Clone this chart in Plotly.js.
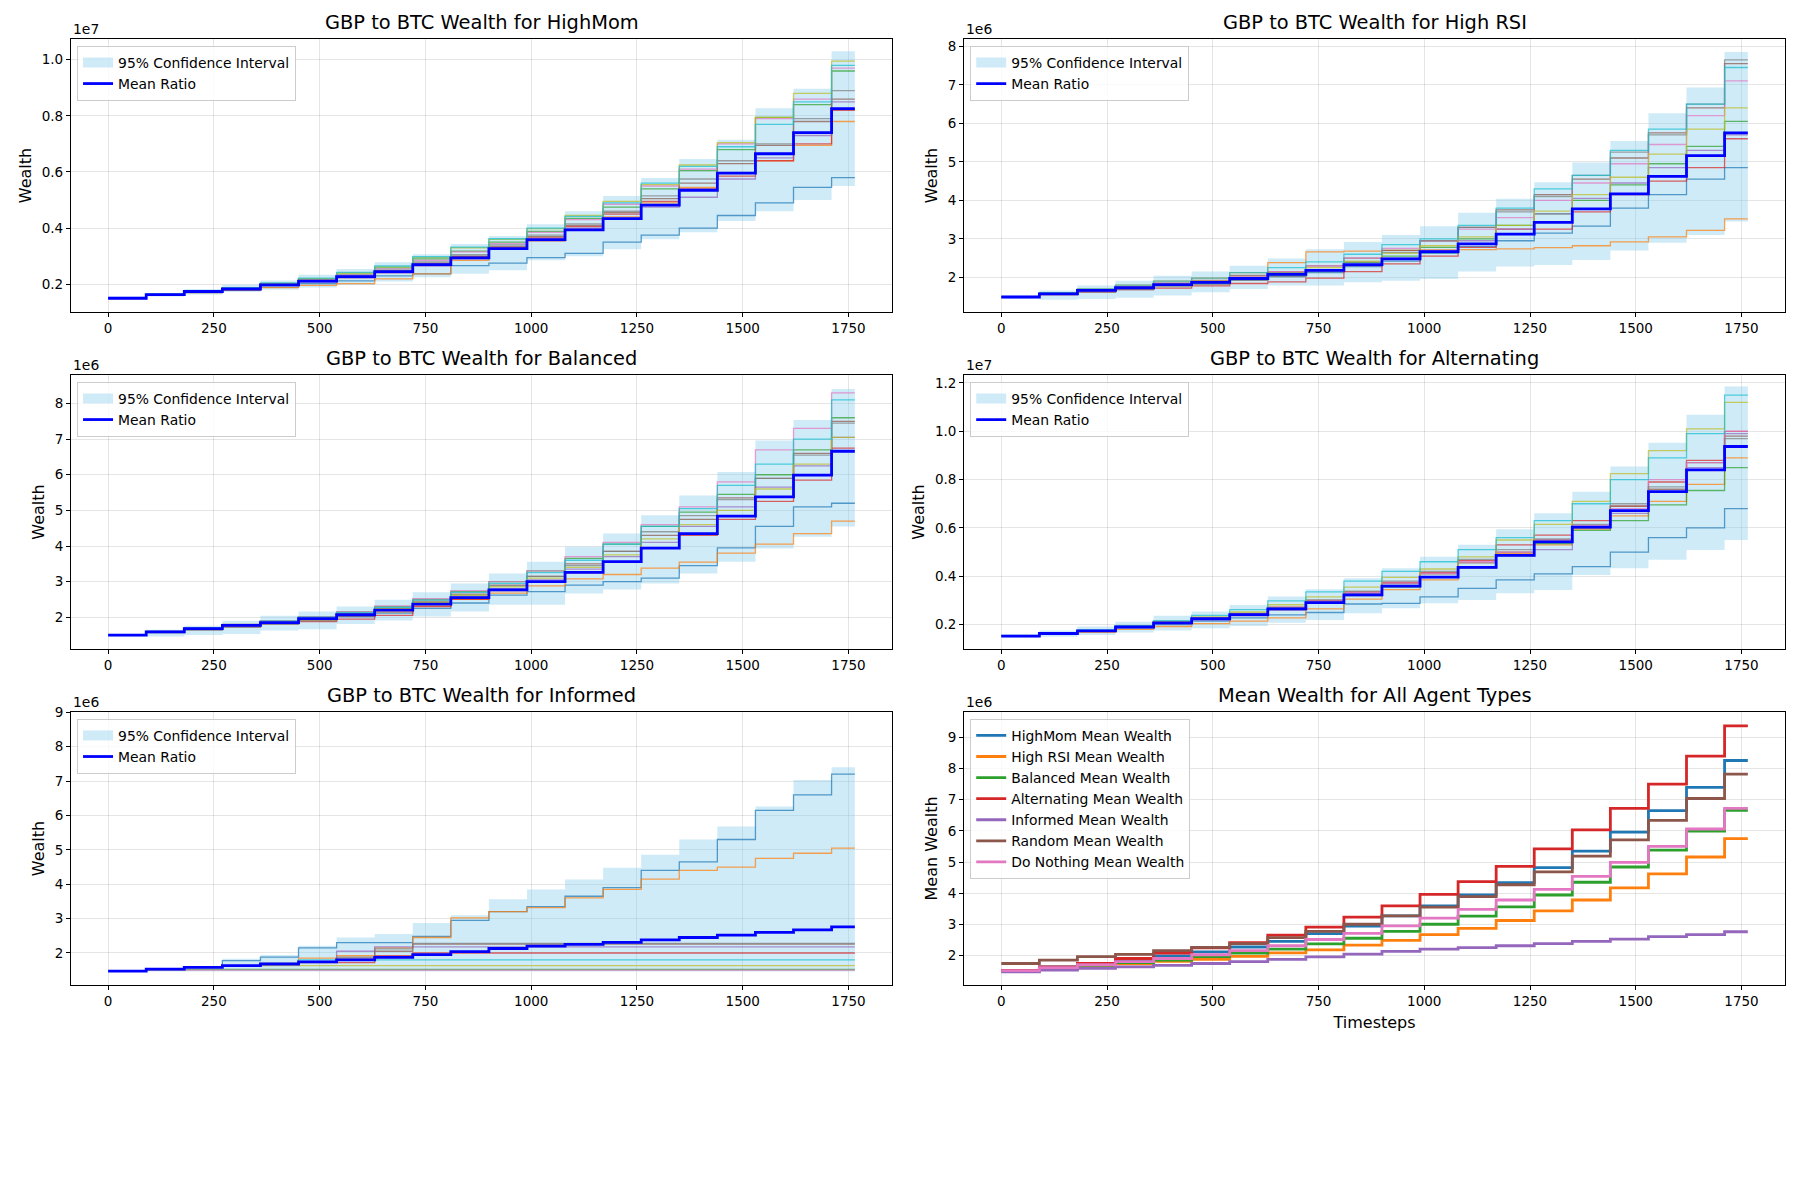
<!DOCTYPE html>
<html>
<head>
<meta charset="utf-8">
<script src="https://cdn.plot.ly/plotly-3.0.1.min.js"></script>
<style>
body { margin: 0; background: #fff; }
#graph { width: 1800px; height: 1200px; }
</style>
</head>
<body>
<div id="graph"></div>
<script>
// timesteps where each deposit period starts (every series steps up here)
const timesteps = [0,90,180,270,360,450,540,630,720,810,900,990,1080,1170,1260,1350,1440,1530,1620,1710];
const lastStep = 1765;
const xTicks = [0,250,500,750,1000,1250,1500,1750];
const runColors = ['#1f77b4','#ff7f0e','#2ca02c','#d62728','#9467bd','#8c564b','#e377c2','#7f7f7f','#bcbd22','#17becf'];

// all wealth values in millions, one value per deposit period

// HighMom
const highMomMean  = [1.50,1.63,1.74,1.83,1.98,2.11,2.27,2.45,2.70,2.94,3.27,3.59,3.94,4.34,4.82,5.35,5.96,6.65,7.40,8.26];
const highMomUpper = [1.56,1.68,1.83,1.98,2.13,2.34,2.54,2.78,3.07,3.43,3.72,4.14,4.60,5.14,5.79,6.46,7.15,8.27,8.97,10.3];
const highMomLower = [1.47,1.56,1.63,1.72,1.80,1.88,1.97,2.10,2.25,2.37,2.50,2.85,3.00,3.25,3.60,3.85,4.25,4.60,5.00,5.50];
const highMomRuns = [
  [1.50,1.61,1.70,1.78,1.90,2.02,2.12,2.30,2.37,2.66,2.75,2.95,3.10,3.50,3.75,4.00,4.45,4.90,5.45,5.80],
  [1.50,1.62,1.70,1.78,1.88,1.96,2.02,2.19,2.37,2.85,3.25,3.55,3.95,4.40,4.90,5.45,5.95,6.40,6.95,7.80],
  [1.50,1.64,1.75,1.86,2.02,2.18,2.36,2.58,2.90,3.18,3.50,3.88,4.35,4.75,5.40,6.05,6.80,7.95,8.40,9.60],
  [1.50,1.63,1.74,1.84,1.99,2.12,2.28,2.46,2.72,2.98,3.30,3.65,4.05,4.50,4.95,5.40,5.85,6.40,7.00,8.20],
  [1.49,1.62,1.72,1.81,1.95,2.08,2.22,2.40,2.65,2.90,3.25,3.55,4.00,4.35,4.75,5.10,5.75,6.50,7.30,8.50],
  [1.50,1.62,1.73,1.83,1.98,2.12,2.28,2.48,2.75,3.00,3.35,3.70,4.10,4.55,5.05,5.60,6.30,6.95,7.80,8.60],
  [1.50,1.63,1.75,1.85,2.00,2.15,2.33,2.55,2.85,3.15,3.45,3.85,4.30,4.85,5.50,6.10,7.00,7.90,8.60,9.70],
  [1.50,1.63,1.74,1.84,2.00,2.14,2.30,2.50,2.80,3.05,3.40,3.75,4.15,4.60,5.15,5.75,6.40,7.00,7.90,8.90],
  [1.50,1.64,1.76,1.87,2.03,2.20,2.40,2.62,2.95,3.30,3.60,3.98,4.45,4.95,5.55,6.25,7.05,7.95,8.80,9.95],
  [1.51,1.65,1.77,1.88,2.05,2.22,2.42,2.65,2.98,3.32,3.62,4.00,4.42,4.90,5.60,6.20,6.90,7.70,8.50,9.80]
];

// High RSI
const highRsiMean  = [1.49,1.57,1.66,1.73,1.81,1.87,1.97,2.08,2.18,2.33,2.48,2.67,2.87,3.12,3.43,3.78,4.17,4.62,5.16,5.75];
const highRsiUpper = [1.53,1.66,1.79,1.91,2.04,2.15,2.30,2.49,2.73,2.92,3.10,3.33,3.68,4.04,4.47,4.98,5.54,6.26,6.93,7.85];
const highRsiLower = [1.44,1.42,1.44,1.47,1.53,1.61,1.70,1.79,1.79,1.87,1.91,1.96,2.15,2.28,2.32,2.45,2.70,2.90,3.10,3.45];
const highRsiRuns = [
  [1.49,1.56,1.64,1.71,1.79,1.84,1.93,2.02,2.12,2.28,2.42,2.62,2.80,2.95,3.15,3.33,3.80,4.15,4.55,4.85],
  [1.49,1.60,1.70,1.80,1.90,1.98,2.12,2.38,2.66,2.68,2.70,2.71,2.72,2.74,2.77,2.82,2.92,3.05,3.22,3.52],
  [1.49,1.58,1.66,1.74,1.80,1.85,1.95,2.05,2.20,2.38,2.55,2.78,3.00,3.35,3.65,4.00,4.40,4.95,5.40,6.05],
  [1.49,1.55,1.62,1.68,1.72,1.78,1.84,1.88,1.98,2.15,2.35,2.55,2.78,3.25,3.25,3.70,4.15,4.50,4.85,5.60],
  [1.49,1.57,1.67,1.73,1.82,1.90,2.00,2.08,2.18,2.30,2.50,2.70,2.95,3.25,3.65,4.05,4.45,4.85,5.30,5.70],
  [1.49,1.58,1.68,1.76,1.85,1.92,2.05,2.15,2.30,2.50,2.70,2.95,3.30,3.75,4.15,4.55,5.10,5.75,6.40,7.55],
  [1.49,1.57,1.67,1.75,1.84,1.90,2.02,2.15,2.30,2.50,2.75,2.95,3.25,3.55,4.00,4.45,4.95,5.45,6.20,7.10],
  [1.49,1.55,1.62,1.68,1.76,1.82,1.92,2.02,2.15,2.40,2.65,2.95,3.30,3.70,4.10,4.65,5.25,5.70,6.50,7.65],
  [1.49,1.58,1.68,1.75,1.83,1.90,2.00,2.12,2.25,2.42,2.62,2.82,3.05,3.35,3.72,4.15,4.60,5.20,5.85,6.40],
  [1.49,1.60,1.70,1.80,1.90,1.98,2.12,2.25,2.40,2.60,2.85,3.00,3.35,3.80,4.30,4.65,5.30,5.85,6.50,7.45]
];

// Balanced
const balancedMean  = [1.50,1.59,1.68,1.77,1.85,1.96,2.07,2.20,2.37,2.55,2.77,3.00,3.26,3.56,3.94,4.35,4.84,5.38,5.99,6.66];
const balancedUpper = [1.53,1.65,1.76,1.90,2.04,2.16,2.30,2.49,2.70,2.95,3.23,3.56,3.98,4.35,4.86,5.42,6.08,6.96,7.54,8.41];
const balancedLower = [1.46,1.46,1.50,1.53,1.63,1.66,1.81,1.91,2.02,2.16,2.35,2.35,2.67,2.78,2.95,3.23,3.56,3.93,4.26,4.55];
const balancedRuns = [
  [1.50,1.58,1.66,1.74,1.82,1.93,2.02,2.12,2.25,2.40,2.62,2.72,2.90,3.00,3.10,3.45,3.95,4.55,5.10,5.20],
  [1.50,1.58,1.66,1.74,1.82,1.92,2.03,2.15,2.32,2.50,2.68,2.88,3.08,3.20,3.38,3.55,3.80,4.05,4.35,4.70],
  [1.50,1.60,1.70,1.80,1.90,2.02,2.15,2.30,2.50,2.72,3.00,3.30,3.65,4.05,4.55,4.95,5.45,6.00,6.70,7.60],
  [1.50,1.59,1.67,1.76,1.82,1.88,1.95,2.05,2.30,2.50,2.75,3.00,3.25,3.55,3.95,4.30,4.75,5.25,5.85,6.75],
  [1.50,1.58,1.67,1.76,1.85,1.95,2.05,2.20,2.38,2.58,2.80,3.05,3.35,3.70,4.10,4.55,5.10,5.65,6.25,7.05],
  [1.50,1.59,1.68,1.78,1.87,1.98,2.10,2.25,2.45,2.65,2.90,3.15,3.50,3.85,4.30,4.75,5.35,5.90,6.60,7.50],
  [1.50,1.60,1.70,1.80,1.90,2.02,2.15,2.32,2.52,2.75,3.00,3.30,3.70,4.10,4.60,5.10,5.80,6.70,7.30,8.30],
  [1.50,1.56,1.63,1.72,1.80,1.90,2.02,2.20,2.42,2.62,2.88,3.15,3.45,3.85,4.40,4.85,5.30,5.90,6.55,7.45],
  [1.50,1.59,1.69,1.78,1.87,1.98,2.10,2.24,2.42,2.62,2.85,3.10,3.40,3.75,4.20,4.60,5.00,5.60,6.30,7.05],
  [1.50,1.60,1.70,1.79,1.89,2.00,2.13,2.28,2.48,2.70,2.95,3.25,3.60,4.05,4.55,5.05,5.70,6.30,7.00,8.10]
];

// Alternating
const alternatingMean  = [1.52,1.63,1.74,1.90,2.07,2.24,2.41,2.65,2.91,3.23,3.59,3.96,4.37,4.86,5.42,6.03,6.72,7.50,8.40,9.37];
const alternatingUpper = [1.61,1.75,1.92,2.12,2.36,2.54,2.81,3.16,3.46,3.92,4.33,4.81,5.30,5.94,6.61,7.50,8.54,9.53,10.68,11.85];
const alternatingLower = [1.46,1.50,1.57,1.67,1.75,1.85,1.94,2.08,2.19,2.47,2.68,2.88,3.02,3.30,3.43,4.05,4.33,4.68,5.09,5.50];
const alternatingRuns = [
  [1.52,1.62,1.72,1.86,2.00,2.14,2.28,2.40,2.50,2.85,2.88,3.15,3.50,3.85,4.10,4.40,5.00,5.60,6.00,6.80],
  [1.52,1.60,1.68,1.80,1.92,2.04,2.14,2.28,2.65,3.05,3.45,3.85,4.35,4.95,5.30,5.95,6.50,7.10,7.80,8.90],
  [1.52,1.63,1.74,1.90,2.05,2.22,2.40,2.62,2.90,3.20,3.55,3.95,4.35,4.85,5.35,5.90,6.30,6.95,7.55,8.50],
  [1.52,1.63,1.75,1.92,2.10,2.28,2.46,2.72,3.00,3.35,3.75,4.15,4.65,5.30,5.70,6.30,6.90,7.90,8.80,10.0],
  [1.52,1.62,1.73,1.88,2.04,2.20,2.36,2.60,2.88,3.20,3.58,3.95,4.40,4.85,5.10,6.00,6.60,7.50,8.50,9.90],
  [1.52,1.63,1.74,1.90,2.06,2.23,2.40,2.66,2.95,3.30,3.70,4.10,4.55,5.00,5.50,6.00,6.90,7.60,8.70,9.80],
  [1.52,1.63,1.75,1.91,2.08,2.25,2.43,2.68,2.98,3.32,3.72,4.12,4.60,5.00,5.50,6.10,6.80,8.00,8.70,10.0],
  [1.52,1.62,1.73,1.89,2.06,2.24,2.44,2.70,3.02,3.38,3.80,4.20,4.70,5.10,5.55,6.15,7.00,7.70,8.40,9.70],
  [1.52,1.64,1.76,1.94,2.13,2.32,2.52,2.82,3.15,3.55,3.95,4.30,4.80,5.50,6.15,7.10,8.25,9.20,10.1,11.2],
  [1.52,1.65,1.78,1.96,2.16,2.38,2.62,2.98,3.35,3.80,4.20,4.60,5.10,5.60,6.30,7.00,8.00,8.90,9.90,11.5]
];

// Informed
const informedMean  = [1.47,1.53,1.58,1.63,1.68,1.74,1.80,1.87,1.95,2.04,2.13,2.20,2.25,2.31,2.38,2.45,2.52,2.60,2.67,2.76];
const informedUpper = [1.48,1.54,1.62,1.83,1.94,2.21,2.45,2.55,2.87,3.10,3.56,3.85,4.14,4.48,4.86,5.30,5.68,6.26,7.03,7.40];
const informedLower = [1.45,1.46,1.46,1.46,1.46,1.46,1.46,1.46,1.46,1.46,1.46,1.46,1.46,1.46,1.46,1.46,1.46,1.46,1.46,1.46];
const informedRuns = [
  [1.47,1.53,1.60,1.78,1.88,2.15,2.30,2.30,2.48,2.95,3.20,3.35,3.65,3.90,4.40,4.65,5.30,6.15,6.60,7.20],
  [1.47,1.53,1.58,1.62,1.70,1.85,1.92,2.15,2.45,3.02,3.20,3.32,3.60,3.85,4.15,4.40,4.50,4.75,4.90,5.05],
  [1.47,1.50,1.52,1.52,1.52,1.52,1.52,1.52,1.52,1.52,1.52,1.52,1.52,1.52,1.52,1.52,1.52,1.52,1.52,1.52],
  [1.47,1.53,1.58,1.63,1.68,1.72,1.72,1.92,2.00,2.00,2.00,2.00,2.00,2.00,2.00,2.00,2.00,2.00,2.00,2.00],
  [1.47,1.53,1.58,1.63,1.68,1.75,2.05,2.18,2.18,2.18,2.18,2.18,2.18,2.18,2.18,2.18,2.18,2.18,2.18,2.18],
  [1.47,1.53,1.58,1.63,1.68,1.75,1.85,2.05,2.26,2.26,2.26,2.26,2.26,2.26,2.26,2.26,2.26,2.26,2.26,2.26],
  [1.47,1.50,1.50,1.50,1.50,1.50,1.50,1.50,1.50,1.50,1.50,1.50,1.50,1.50,1.50,1.50,1.50,1.50,1.50,1.50],
  [1.47,1.53,1.58,1.63,1.68,1.75,1.88,2.12,2.28,2.28,2.28,2.28,2.28,2.28,2.28,2.28,2.28,2.28,2.28,2.28],
  [1.47,1.53,1.58,1.63,1.63,1.63,1.63,1.63,1.63,1.63,1.63,1.63,1.63,1.63,1.63,1.63,1.63,1.63,1.63,1.63],
  [1.47,1.53,1.58,1.63,1.70,1.80,1.80,1.80,1.80,1.80,1.80,1.80,1.80,1.80,1.80,1.80,1.80,1.80,1.80,1.80]
];

// extra agent types shown only in the summary panel
const randomMean    = [1.74,1.85,1.96,2.03,2.15,2.26,2.38,2.57,2.77,3.00,3.27,3.55,3.89,4.27,4.68,5.19,5.71,6.34,7.04,7.82];
const doNothingMean = [1.51,1.61,1.70,1.80,1.90,2.02,2.15,2.31,2.51,2.71,2.95,3.20,3.48,3.78,4.12,4.54,4.99,5.50,6.06,6.72];

const agentNames = ['HighMom','High RSI','Balanced','Alternating','Informed','Random','Do Nothing'];

const FONT = 'DejaVu Sans, Verdana, sans-serif';
const BAND = 'rgba(135,206,235,0.4)';
let traces = [];

function stairs(values) {
    return { x: timesteps.concat([lastStep]), y: values.concat([values[values.length - 1]]) };
}

function addPanel(n, mean, upper, lower, runs) {
    let xa = n == 1 ? 'x' : 'x' + n;
    let ya = n == 1 ? 'y' : 'y' + n;
    let leg = n == 1 ? 'legend' : 'legend' + n;
    let lo = stairs(lower), up = stairs(upper);
    traces.push({ x: lo.x, y: lo.y, xaxis: xa, yaxis: ya, mode: 'lines',
        line: { width: 0, shape: 'hv' }, showlegend: false, hoverinfo: 'skip' });
    traces.push({ x: up.x, y: up.y, xaxis: xa, yaxis: ya, mode: 'lines', fill: 'tonexty',
        fillcolor: BAND, line: { width: 0, shape: 'hv' }, showlegend: false });
    // legend-only entry so the band shows as a patch like matplotlib
    traces.push({ x: [null], y: [null], xaxis: xa, yaxis: ya, mode: 'lines',
        line: { color: BAND, width: 13 }, name: '95% Confidence Interval', legend: leg });
    runs.forEach((r, i) => {
        let s = stairs(r);
        traces.push({ x: s.x, y: s.y, xaxis: xa, yaxis: ya, mode: 'lines',
            line: { color: runColors[i], width: 1.3, shape: 'hv' }, opacity: 0.72,
            showlegend: false, hoverinfo: 'skip' });
    });
    let m = stairs(mean);
    traces.push({ x: m.x, y: m.y, xaxis: xa, yaxis: ya, mode: 'lines',
        line: { color: '#0000ff', width: 2.8, shape: 'hv' }, name: 'Mean Ratio', legend: leg });
}

addPanel(1, highMomMean, highMomUpper, highMomLower, highMomRuns);
addPanel(2, highRsiMean, highRsiUpper, highRsiLower, highRsiRuns);
addPanel(3, balancedMean, balancedUpper, balancedLower, balancedRuns);
addPanel(4, alternatingMean, alternatingUpper, alternatingLower, alternatingRuns);
addPanel(5, informedMean, informedUpper, informedLower, informedRuns);

// summary panel
[highMomMean, highRsiMean, balancedMean, alternatingMean, informedMean, randomMean, doNothingMean].forEach((vals, i) => {
    let s = stairs(vals);
    traces.push({ x: s.x, y: s.y, xaxis: 'x6', yaxis: 'y6', mode: 'lines',
        line: { color: runColors[i], width: 2.8, shape: 'hv' },
        name: agentNames[i] + ' Mean Wealth', legend: 'legend6' });
});

const colDomains = [[0.0394, 0.4956], [0.5356, 0.9917]];
const rowDomains = [[0.74, 0.9675], [0.4592, 0.6875], [0.1792, 0.4067]];
const yRanges = [[1.01, 10.74], [1.10, 8.19], [1.11, 8.80], [0.99, 12.33], [1.07, 9.01], [1.05, 9.82]];
const titles = ['GBP to BTC Wealth for HighMom', 'GBP to BTC Wealth for High RSI',
    'GBP to BTC Wealth for Balanced', 'GBP to BTC Wealth for Alternating',
    'GBP to BTC Wealth for Informed', 'Mean Wealth for All Agent Types'];
const offsets = ['1e7', '1e6', '1e6', '1e7', '1e6', '1e6'];

let layout = {
    width: 1800, height: 1200,
    margin: { l: 0, r: 0, t: 0, b: 0 },
    paper_bgcolor: '#fff', plot_bgcolor: '#fff',
    font: { family: FONT, size: 13.9, color: '#000' },
    showlegend: true,
    annotations: []
};

for (let n = 1; n <= 6; n++) {
    let col = (n - 1) % 2, row = Math.floor((n - 1) / 2);
    let sfx = n == 1 ? '' : n;
    let axisBase = {
        showline: true, mirror: true, linecolor: '#000', linewidth: 1,
        ticks: 'outside', ticklen: 4, tickwidth: 1, tickcolor: '#000',
        showgrid: true, gridcolor: 'rgba(0,0,0,0.1)', gridwidth: 1, zeroline: false,
        tickfont: { family: FONT, size: 13.5, color: '#000' }
    };
    layout['xaxis' + sfx] = Object.assign({}, axisBase, {
        domain: colDomains[col], anchor: 'y' + sfx, range: [-88, 1853],
        tickvals: xTicks
    });
    if (n == 6) layout['xaxis' + sfx].title = { text: 'Timesteps', font: { family: FONT, size: 16 }, standoff: 8 };

    let yax = Object.assign({}, axisBase, {
        domain: rowDomains[row], anchor: 'x' + sfx, range: yRanges[n - 1],
        title: { text: n == 6 ? 'Mean Wealth' : 'Wealth', font: { family: FONT, size: 16 }, standoff: 6 }
    });
    if (offsets[n - 1] == '1e7') {
        let top = yRanges[n - 1][1];
        yax.tickvals = [2, 4, 6, 8, 10, 12].filter(v => v <= top);
        yax.ticktext = yax.tickvals.map(v => (v / 10).toFixed(1));
    } else {
        yax.dtick = 1;
    }
    layout['yaxis' + sfx] = yax;

    let cx = (colDomains[col][0] + colDomains[col][1]) / 2;
    layout.annotations.push({ text: titles[n - 1], xref: 'paper', yref: 'paper', x: cx, y: rowDomains[row][1],
        xanchor: 'center', yanchor: 'bottom', yshift: 3, showarrow: false,
        font: { family: FONT, size: 19.4, color: '#000' } });
    layout.annotations.push({ text: offsets[n - 1], xref: 'paper', yref: 'paper', x: colDomains[col][0], y: rowDomains[row][1],
        xanchor: 'left', yanchor: 'bottom', yshift: 0, showarrow: false,
        font: { family: FONT, size: 13.9, color: '#000' } });

    layout['legend' + sfx] = {
        x: colDomains[col][0] + 0.0034, y: rowDomains[row][1] - 0.0058,
        xanchor: 'left', yanchor: 'top', traceorder: 'normal',
        bgcolor: 'rgba(255,255,255,0.8)', bordercolor: '#cccccc', borderwidth: 1,
        font: { family: FONT, size: 13.9, color: '#000' },
        tracegroupgap: 0, itemwidth: 30
    };
}

Plotly.newPlot('graph', traces, layout, { displayModeBar: false, staticPlot: true });
</script>
</body>
</html>
